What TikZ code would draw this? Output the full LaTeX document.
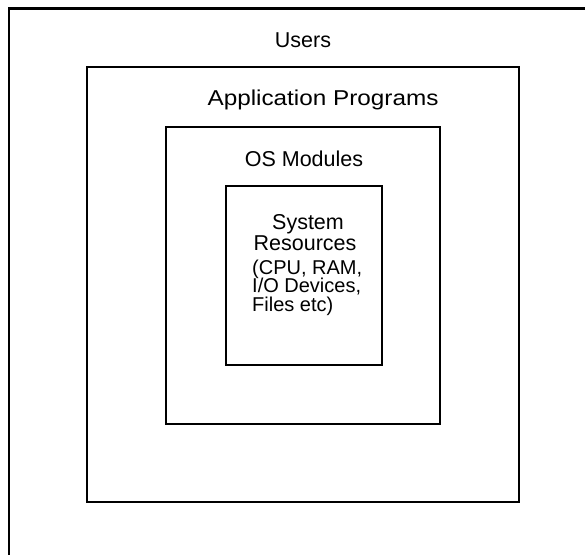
\documentclass[tikz,border=0pt]{standalone}
\usepackage{fontspec}
\setmainfont{Liberation Sans}
\newfontfamily\widefont[FakeStretch=1.13]{Liberation Sans}
\begin{document}
\begin{tikzpicture}[x=1pt,y=-1pt,
  box/.style={draw=black,line width=2.3pt},
  lbl/.style={inner sep=0pt,font=\fontsize{21.5}{21.5}\selectfont},
  sml/.style={inner sep=0pt,font=\fontsize{20}{20}\selectfont},
  lblc/.style={lbl,anchor=base},
  lbll/.style={sml,anchor=base west}]
\useasboundingbox[fill=white] (0,0) rectangle (585,554);
% outer (Users) box, cut by the page edge on right and bottom
\coordinate (otr) at (586,8.5);
\coordinate (otl) at (9,8.5);
\coordinate (obl) at (9,556);
\draw[box] (otr) -- (otl) -- (obl);
% Application Programs box
\draw[box] (87,67) rectangle (519,502);
% OS Modules box
\draw[box] (166,127) rectangle (440,424);
% System Resources box
\draw[box] (226,186) rectangle (382,365);
% texts
\node[lblc] (users) at (303,47.5) {Users};
\node[lblc] (app) at (323,105.5) {\widefont Application Programs};
\node[lblc] (os) at (304,166.5) {OS Modules};
\node[lblc] (sys1) at (308,229) {System};
\node[lblc] (sys2) at (305,250.5) {Resources};
\node[lbll] (r1) at (252,274) {(CPU, RAM,};
\node[lbll] (r2) at (252,292.5) {I/O Devices,};
\node[lbll] (r3) at (252,311) {Files etc)};
\end{tikzpicture}
\end{document}
